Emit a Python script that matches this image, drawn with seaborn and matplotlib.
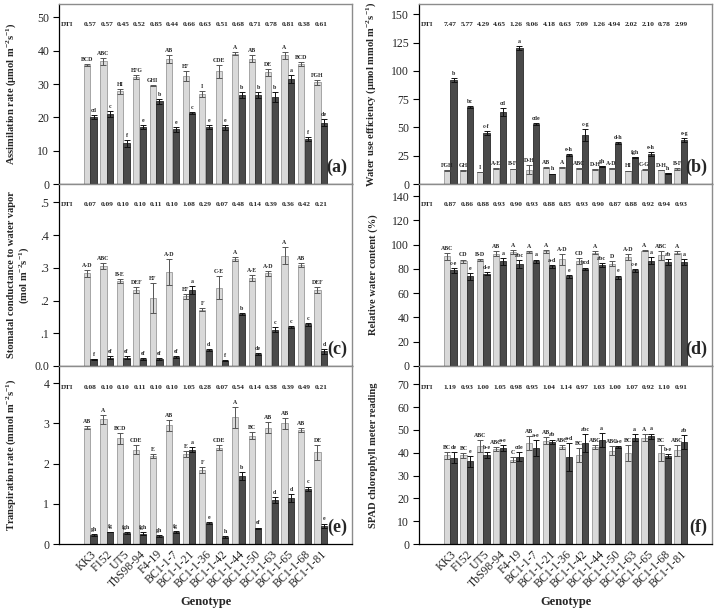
import numpy as np
import pandas as pd
import matplotlib
matplotlib.use("Agg")
import matplotlib.pyplot as plt
import seaborn as sns

genotypes = ["KK3", "F152", "UT5", "TbS98-94", "F4-19", "BC1-1-7", "BC1-1-21", "BC1-1-36",
             "BC1-1-42", "BC1-1-44", "BC1-1-50", "BC1-1-63", "BC1-1-65", "BC1-1-68", "BC1-1-81"]
treatments = ["Control", "Drought"]

# (a) assimilation rate
a_ctrl = [35.8, 36.8, 27.8, 32.1, 29.5, 37.6, 32.3, 27.0, 33.8, 39.1, 37.6, 33.5, 38.6, 36.0, 30.5]
a_ctrl_se = [0.3, 1.0, 0.8, 0.5, 0.2, 1.2, 1.5, 0.8, 2.0, 0.4, 1.0, 1.0, 1.0, 0.7, 0.7]
a_dro = [20.2, 21.0, 12.2, 17.0, 24.8, 16.4, 21.3, 17.2, 17.0, 26.7, 26.7, 26.0, 31.4, 13.6, 18.4]
a_dro_se = [0.6, 0.8, 1.0, 0.6, 0.7, 0.7, 0.4, 0.6, 0.8, 1.0, 1.0, 1.5, 1.2, 0.6, 1.0]
a_ctrl_let = ["BCD", "ABC", "HI", "EFG", "GHI", "AB", "EF", "I", "CDE", "A", "AB", "DE", "A", "BCD", "FGH"]
a_dro_let = ["cd", "c", "f", "e", "b", "e", "c", "e", "e", "b", "b", "b", "a", "f", "de"]
a_dti = ["0.57", "0.57", "0.45", "0.52", "0.85", "0.44", "0.66", "0.63", "0.51", "0.68", "0.71", "0.78", "0.81", "0.38", "0.61"]

# (b) water use efficiency
b_ctrl = [12.0, 12.0, 10.5, 14.0, 13.3, 12.5, 14.3, 14.8, 14.0, 13.0, 14.0, 11.5, 12.8, 12.3, 13.5]
b_ctrl_se = [0.4, 0.4, 0.3, 0.4, 0.4, 4.0, 0.4, 0.4, 0.4, 0.5, 0.5, 0.4, 0.4, 0.3, 0.8]
b_dro = [91.8, 68.0, 45.0, 63.4, 120.3, 53.1, 9.0, 25.8, 43.4, 15.5, 36.1, 23.5, 26.7, 9.5, 39.0]
b_dro_se = [1.5, 0.8, 1.5, 3.5, 1.5, 0.5, 0.3, 0.6, 5.0, 0.5, 1.0, 0.6, 1.5, 0.3, 1.5]
b_ctrl_let = ["FGH", "GH", "I", "A-E", "B-F", "D-H", "AB", "A", "ABC", "D-H", "A-D", "HI", "C-G", "D-H", "B-F"]
b_dro_let = ["b", "bc", "c-f", "cd", "a", "cde", "h", "e-h", "c-g", "gh", "d-h", "fgh", "e-h", "h", "e-g"]
b_dti = ["7.47", "5.77", "4.29", "4.65", "1.26", "9.06", "4.18", "0.63", "7.09", "1.26", "4.94", "2.02", "2.10", "0.78", "2.99"]

# (c) stomatal conductance
c_ctrl = [0.283, 0.305, 0.259, 0.232, 0.208, 0.288, 0.213, 0.172, 0.239, 0.327, 0.269, 0.283, 0.337, 0.308, 0.232]
c_ctrl_se = [0.010, 0.010, 0.007, 0.008, 0.045, 0.040, 0.008, 0.005, 0.035, 0.005, 0.008, 0.008, 0.025, 0.006, 0.010]
c_dro = [0.020, 0.025, 0.025, 0.022, 0.020, 0.027, 0.232, 0.050, 0.016, 0.158, 0.037, 0.111, 0.120, 0.127, 0.045]
c_dro_se = [0.002, 0.004, 0.004, 0.003, 0.003, 0.004, 0.012, 0.003, 0.002, 0.003, 0.003, 0.007, 0.003, 0.005, 0.007]
c_ctrl_let = ["A-D", "ABC", "B-E", "DEF", "EF", "A-D", "EF", "F", "C-E", "A", "A-E", "A-D", "A", "AB", "DEF"]
c_dro_let = ["f", "ef", "ef", "ef", "ef", "ef", "a", "d", "f", "b", "de", "c", "c", "c", "d"]
c_dti = ["0.07", "0.09", "0.10", "0.10", "0.11", "0.10", "1.08", "0.29", "0.07", "0.48", "0.14", "0.39", "0.36", "0.42", "0.21"]

# (d) relative water content
d_ctrl = [90.3, 86.2, 87.3, 92.5, 93.9, 94.0, 94.5, 88.0, 86.2, 93.4, 84.3, 90.0, 95.0, 91.2, 93.4]
d_ctrl_se = [3.0, 1.5, 0.5, 2.0, 2.0, 0.5, 1.0, 4.5, 2.5, 1.5, 2.0, 2.5, 0.5, 3.5, 1.0]
d_dro = [78.7, 73.8, 76.2, 86.2, 84.0, 86.2, 82.0, 73.8, 80.1, 83.4, 73.0, 78.7, 86.7, 85.6, 85.6]
d_dro_se = [2.0, 3.0, 1.5, 3.0, 3.5, 1.5, 1.5, 1.5, 1.0, 1.5, 1.5, 1.5, 3.0, 2.5, 2.5]
d_ctrl_let = ["ABC", "CD", "B-D", "AB", "A", "A", "A", "A-D", "CD", "A", "D", "A-D", "A", "ABC", "A"]
d_dro_let = ["c-e", "e", "d-e", "a", "abc", "a", "a-d", "e", "bcd", "abc", "e", "c-e", "a", "ab", "a"]
d_dti = ["0.87", "0.86", "0.88", "0.93", "0.90", "0.93", "0.88", "0.85", "0.93", "0.90", "0.87", "0.88", "0.92", "0.94", "0.93"]

# (e) transpiration rate
e_ctrl = [2.90, 3.10, 2.63, 2.35, 2.20, 2.95, 2.24, 1.84, 2.40, 3.15, 2.70, 2.90, 3.00, 2.84, 2.28]
e_ctrl_se = [0.03, 0.12, 0.13, 0.12, 0.05, 0.13, 0.08, 0.07, 0.06, 0.27, 0.08, 0.14, 0.14, 0.05, 0.18]
e_dro = [0.22, 0.30, 0.27, 0.26, 0.20, 0.30, 2.35, 0.52, 0.17, 1.70, 0.39, 1.10, 1.15, 1.38, 0.46]
e_dro_se = [0.02, 0.01, 0.02, 0.03, 0.02, 0.02, 0.07, 0.03, 0.02, 0.10, 0.02, 0.07, 0.10, 0.05, 0.05]
e_ctrl_let = ["AB", "A", "BCD", "CDE", "E", "AB", "E", "F", "CDE", "A", "BC", "AB", "AB", "AB", "DE"]
e_dro_let = ["gh", "fg", "fgh", "fgh", "gh", "fg", "a", "e", "h", "b", "ef", "d", "d", "c", "e"]
e_dti = ["0.08", "0.10", "0.10", "0.11", "0.10", "0.10", "1.05", "0.28", "0.07", "0.54", "0.14", "0.38", "0.39", "0.49", "0.21"]

# (f) SPAD
f_ctrl = [38.9, 38.9, 43.0, 41.6, 37.0, 44.2, 45.2, 42.5, 39.0, 42.5, 40.8, 39.8, 46.5, 39.8, 41.0]
f_ctrl_se = [1.5, 1.0, 2.5, 1.0, 1.0, 3.0, 1.5, 1.0, 3.0, 1.0, 2.0, 3.5, 1.5, 3.5, 2.5]
f_dro = [37.8, 36.2, 39.0, 42.0, 38.2, 42.0, 44.8, 38.2, 44.3, 45.5, 42.5, 46.5, 47.2, 38.5, 44.8]
f_dro_se = [2.5, 2.5, 1.5, 1.2, 2.0, 3.5, 1.0, 6.0, 4.0, 3.0, 0.5, 1.5, 1.2, 0.8, 3.0]
f_ctrl_let = ["BC", "BC", "ABC", "ABC", "C", "AB", "AB", "ABC", "BC", "ABC", "ABC", "BC", "A", "BC", "ABC"]
f_dro_let = ["de", "e", "b-e", "a-e", "cde", "a-e", "ab", "a-d", "abc", "a", "a-e", "a", "a", "b-e", "ab"]
f_dti = ["1.19", "0.93", "1.00", "1.05", "0.98", "0.95", "1.04", "1.14", "0.97", "1.03", "1.00", "1.07", "0.92", "1.10", "0.91"]

panels = [
    ("(a)", "Assimilation rate (µmol m$^{-2}$s$^{-1}$)", a_ctrl, a_ctrl_se, a_dro, a_dro_se,
     a_ctrl_let, a_dro_let, a_dti, 54, np.arange(0, 51, 10), 48),
    ("(b)", "Water use efficiency (µmol mmol m$^{-2}$s$^{-1}$)", b_ctrl, b_ctrl_se, b_dro, b_dro_se,
     b_ctrl_let, b_dro_let, b_dti, 159, np.arange(0, 151, 25), 141),
    ("(c)", "Stomatal conductance to water vapor\n(mol m$^{-2}$s$^{-1}$)", c_ctrl, c_ctrl_se, c_dro, c_dro_se,
     c_ctrl_let, c_dro_let, c_dti, 0.556, np.arange(0, 0.51, 0.1), 0.494),
    ("(d)", "Relative water content (%)", d_ctrl, d_ctrl_se, d_dro, d_dro_se,
     d_ctrl_let, d_dro_let, d_dti, 150, np.arange(0, 141, 20), 133),
    ("(e)", "Transpiration rate (mmol m$^{-2}$s$^{-1}$)", e_ctrl, e_ctrl_se, e_dro, e_dro_se,
     e_ctrl_let, e_dro_let, e_dti, 4.43, np.arange(0, 5, 1), 3.89),
    ("(f)", "SPAD chlorophyll meter reading", f_ctrl, f_ctrl_se, f_dro, f_dro_se,
     f_ctrl_let, f_dro_let, f_dti, 78, np.arange(0, 71, 10), 68.6),
]

sns.set_theme(style="white")
plt.rcParams["font.family"] = ["Liberation Serif", "DejaVu Serif"]
plt.rcParams["mathtext.fontset"] = "custom"
plt.rcParams["mathtext.rm"] = "Liberation Serif:bold"
plt.rcParams["mathtext.default"] = "rm"

fig = plt.figure(figsize=(7.17, 6.12), dpi=100)
lefts = [0.0823, 0.5844]
rows = [(0.6993, 0.294), (0.402, 0.2974), (0.1111, 0.2908)]
colors = {"Control": "#d9d9d9", "Drought": "#4a4a4a"}
edges = ["#9a9a9a", "#2a2a2a"]
err_cols = ["#555555", "#111111"]

for i, (tag, ylab, ctrl, ctrl_se, dro, dro_se, ctrl_let, dro_let, dti, ymax, yt, dti_y) in enumerate(panels):
    r, col = divmod(i, 2)
    ax = fig.add_axes([lefts[col], rows[r][0], 0.4087, rows[r][1]])
    df = pd.DataFrame({
        "Genotype": genotypes * 2,
        "Treatment": ["Control"] * 15 + ["Drought"] * 15,
        "value": list(ctrl) + list(dro),
    })
    sns.barplot(data=df, x="Genotype", y="value", hue="Treatment", hue_order=treatments,
                order=genotypes, palette=colors, errorbar=None, width=0.8, gap=0.06,
                linewidth=0.6, legend=False, ax=ax)
    ses = [ctrl_se, dro_se]
    lets = [ctrl_let, dro_let]
    bar_conts = list(ax.containers)
    for h, cont in enumerate(bar_conts):
        for bar in cont:
            bar.set_edgecolor(edges[h])
            xc = bar.get_x() + bar.get_width() / 2
            k = int(round(xc))
            top = bar.get_height()
            ax.errorbar(xc, top, yerr=ses[h][k], color=err_cols[h], lw=0.7,
                        capsize=2.2, capthick=0.7, zorder=3)
            ax.annotate(lets[h][k], (xc, top + ses[h][k]), xytext=(0, 1.5),
                        textcoords="offset points", ha="center", va="bottom",
                        fontsize=4.2, fontweight="bold")
    ax.text(-1.39, dti_y, "DTI", ha="center", va="center", fontsize=5, fontweight="bold")
    for k, v in enumerate(dti):
        ax.text(k, dti_y, v, ha="center", va="center", fontsize=5.3, fontweight="bold")
    ax.text(0.985, 0.045, tag, transform=ax.transAxes, ha="right", va="bottom",
            fontsize=13, fontweight="bold")
    ax.set_xlim(-1.9, 15.9)
    ax.set_ylim(0, ymax)
    ax.set_yticks(yt)
    if tag == "(c)":
        ax.set_yticklabels(["0.0", ".1", ".2", ".3", ".4", ".5"])
    else:
        ax.set_yticklabels([str(int(t)) for t in yt])
    ax.tick_params(axis="y", which="major", direction="out", length=4, width=0.8,
                   color="black", labelsize=8.5, pad=3, left=True)
    ax.tick_params(axis="x", length=0, bottom=False)
    for s in ["top", "right"]:
        ax.spines[s].set_color("#8c8c8c")
        ax.spines[s].set_linewidth(1.0)
    for s in ["left", "bottom"]:
        ax.spines[s].set_color("black")
        ax.spines[s].set_linewidth(0.9)
    ax.set_ylabel(ylab, fontsize=7.6, fontweight="bold", linespacing=1.15)
    ax.yaxis.set_label_coords(-0.095 if tag == "(c)" else -0.14, 0.5)
    if r == 2:
        ax.set_xticks(range(len(genotypes)))
        ax.set_xticklabels(genotypes, rotation=45, ha="right", rotation_mode="anchor", fontsize=8.5)
        ax.tick_params(axis="x", pad=3)
        ax.set_xlabel("Genotype", fontsize=9, fontweight="bold")
        ax.xaxis.set_label_coords(0.5, -0.29)
    else:
        ax.set_xticklabels([])
        ax.set_xlabel("")

fig.savefig("out.png", dpi=100)
